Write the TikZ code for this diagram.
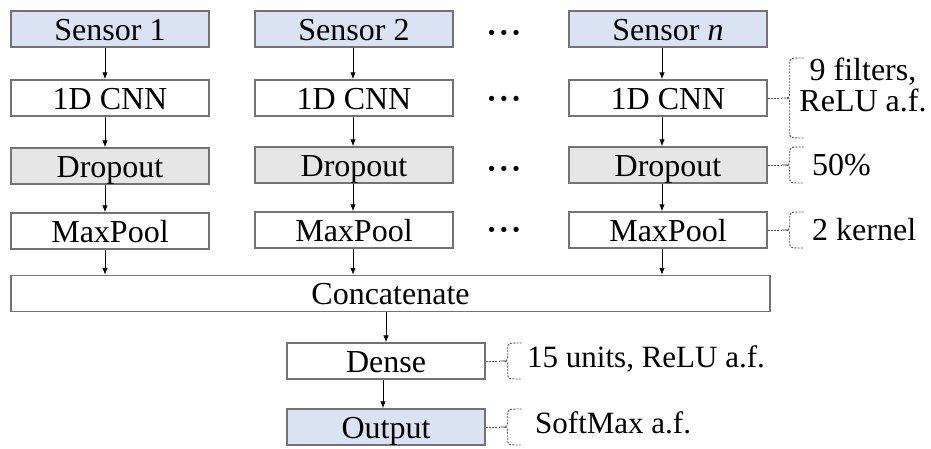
\documentclass[tikz,border=0pt]{standalone}
\usepackage{fontspec}
\setmainfont{Liberation Serif}
\usetikzlibrary{arrows.meta}
\definecolor{sensblue}{RGB}{218,227,243}
\definecolor{dropgray}{RGB}{231,230,230}
\definecolor{boxgray}{RGB}{115,115,115}
\definecolor{bracegray}{RGB}{90,90,90}
\newcommand{\annbrace}[3]{% #1 box node, #2 half height, #3 tip name
  \path (#1.east) ++(14,0) coordinate (#3);
  \draw[brc] (#1.east) -- (#3);
  \draw[brc] ([shift={(22,-#2)}]#3) .. controls ([shift={(8,-#2)}]#3) .. ([shift={(8,-#2+6)}]#3)
    -- ([shift={(8,-6)}]#3) .. controls ([shift={(8,0)}]#3) .. (#3)
    .. controls ([shift={(8,0)}]#3) .. ([shift={(8,6)}]#3)
    -- ([shift={(8,#2-6)}]#3) .. controls ([shift={(8,#2)}]#3) .. ([shift={(22,#2)}]#3);
}
\begin{document}
\begin{tikzpicture}[x=1pt,y=-1pt,
  box/.style={draw=boxgray, line width=1.4pt, fill=white, minimum width=198pt, minimum height=36pt,
    inner sep=0pt, text height=22pt, text depth=0pt, font=\fontsize{32}{34}\selectfont},
  sens/.style={box, fill=sensblue},
  drop/.style={box, fill=dropgray},
  arr/.style={-{Latex[length=7pt,width=5.5pt]}, line width=0.9pt, black},
  ann/.style={font=\fontsize{32}{28}\selectfont, inner sep=0pt, anchor=base west},
  annlow/.style={ann, font=\fontsize{31}{28}\selectfont},
  brc/.style={draw=bracegray, dash pattern=on 2pt off 1.2pt, line width=0.9pt},
  dotsn/.style={inner sep=0pt, font=\fontsize{32}{34}\selectfont\bfseries}
]
\useasboundingbox[fill=white] (0,0) rectangle (931,448);

% column 1
\node[sens] (s1) at (110,29) {Sensor 1};
\node[box]  (c1) at (110,98) {1D CNN};
\node[drop] (d1) at (110,166) {Dropout};
\node[box]  (m1) at (110,231) {MaxPool};
% column 2
\node[sens] (s2) at (354,29) {Sensor 2};
\node[box]  (c2) at (354,98) {1D CNN};
\node[drop] (d2) at (354,165) {Dropout};
\node[box]  (m2) at (354,230) {MaxPool};
% column n
\node[sens] (s3) at (668,29) {Sensor \textit{n}};
\node[box]  (c3) at (668,98) {1D CNN};
\node[drop] (d3) at (668,165) {Dropout};
\node[box]  (m3) at (668,230) {MaxPool};
% dots
\node[dotsn] (e1) at (504,37) {·\kern1.5pt·\kern1.5pt·};
\node[dotsn] (e2) at (504,103) {·\kern1.5pt·\kern1.5pt·};
\node[dotsn] (e3) at (504,173) {·\kern1.5pt·\kern1.5pt·};
\node[dotsn] (e4) at (504,234) {·\kern1.5pt·\kern1.5pt·};

\node[box, minimum width=759pt] (cat) at (390.5,293.5) {Concatenate};
\node[box] (dense) at (386,361) {Dense};
\node[sens] (out) at (386,427) {Output};

% arrows
\foreach \a/\b/\s in {s1/c1/-5, c1/d1/-5, d1/m1/-5, s2/c2/-1, c2/d2/-1, d2/m2/-1, s3/c3/-6, c3/d3/-6, d3/m3/-6}{
  \draw[arr] ([xshift=\s pt]\a.south) -- ([xshift=\s pt]\b.north);
}
\draw[arr] ([xshift=-5pt]m1.south) -- ([xshift=-5pt]m1.south |- cat.north);
\draw[arr] ([xshift=-1pt]m2.south) -- ([xshift=-1pt]m2.south |- cat.north);
\draw[arr] ([xshift=-6pt]m3.south) -- ([xshift=-6pt]m3.south |- cat.north);
\draw[arr] (cat.south -| dense.north) -- (dense.north);
\draw[arr] ([xshift=-3pt]dense.south) -- ([xshift=-3pt]out.north);

% annotations
\annbrace{c3}{40}{t1}
\annbrace{d3}{18}{t2}
\annbrace{m3}{18}{t3}
\annbrace{dense}{18}{t4}
\annbrace{out}{18}{t5}

\node[font=\fontsize{32}{31}\selectfont, align=center, inner sep=0pt] (a1) at (863,85) {9 filters,\\ReLU a.f.};
\node[ann] (a2) at (812,175) {50\%};
\node[ann] (a3) at (812,240) {2 kernel};
\node[annlow] (a4) at (527,367) {15 units, ReLU a.f.};
\node[annlow] (a5) at (535,433) {SoftMax a.f.};
\end{tikzpicture}
\end{document}
